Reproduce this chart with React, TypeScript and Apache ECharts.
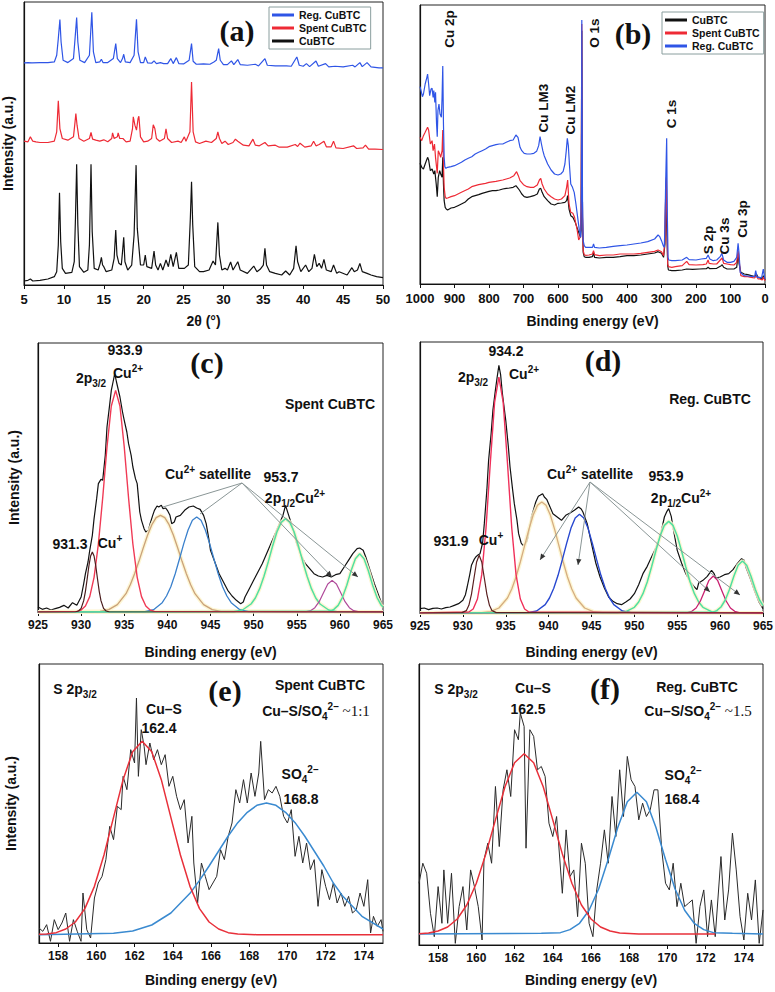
import React, { useEffect, useRef } from 'react';
import * as echarts from 'echarts';

const F = "'Liberation Sans', Arial, Helvetica, sans-serif";
const SERIF = "'Liberation Serif', 'Times New Roman', serif";

// ---------- (a) XRD ----------
const xrdCuBTC: number[][] = [[5.0,12],[5.5,14],[5.8,18],[6.1,12],[7,14],[8,18],[8.8,25],[9.1,40],[9.3,120],[9.45,277],[9.6,130],[9.8,50],[10.2,35],[11.0,38],[11.3,70],[11.45,200],[11.6,363],[11.75,180],[11.95,55],[12.5,38],[13.0,45],[13.2,120],[13.4,363],[13.55,160],[13.8,50],[14.3,45],[14.55,65],[14.7,83],[14.85,60],[15.0,55],[15.3,40],[16.0,45],[16.3,80],[16.5,165],[16.65,90],[16.9,65],[17.2,60],[17.35,100],[17.5,143],[17.65,70],[18.0,45],[18.5,60],[18.8,150],[19.05,360],[19.2,170],[19.4,115],[19.6,60],[20.0,60],[20.2,90],[20.4,55],[21.0,50],[21.3,102],[21.5,60],[21.8,45],[22.1,65],[22.4,45],[22.8,75],[23.1,55],[23.4,92],[23.7,55],[24.1,98],[24.4,50],[25.1,50],[25.6,60],[25.85,200],[26.0,310],[26.15,180],[26.4,55],[27,40],[27.5,40],[28.2,45],[28.7,72],[29.0,60],[29.3,188],[29.5,90],[29.8,45],[30.2,50],[30.5,45],[30.9,69],[31.2,45],[31.8,70],[32.1,45],[33,35],[33.8,57],[34.2,40],[34.6,47],[35.0,60],[35.2,110],[35.4,60],[35.8,40],[36.5,35],[37.3,30],[37.8,42],[38.3,30],[38.8,50],[39.1,118],[39.3,70],[39.7,40],[40.3,60],[40.7,40],[41.1,50],[41.4,92],[41.7,55],[42.0,65],[42.3,50],[42.6,77],[42.9,45],[43.5,40],[43.8,60],[44.2,35],[44.5,40],[45.5,30],[46.1,52],[46.4,40],[46.8,45],[47.1,65],[47.4,40],[48.0,35],[48.5,30],[49.2,25],[50,22]];
const xrdSpent: number[][] = [[5,432],[5.5,430],[5.8,445],[6.1,432],[6.5,430],[7,428],[8,428],[8.8,432],[9.1,460],[9.3,553],[9.5,470],[9.8,440],[10.5,435],[11.2,445],[11.4,490],[11.5,515],[11.65,480],[11.9,440],[12.5,432],[13.2,440],[13.4,458],[13.6,438],[14,435],[14.5,432],[15,436],[15.5,430],[16.0,440],[16.1,457],[16.3,440],[16.7,445],[16.8,457],[17.0,440],[17.4,440],[17.8,430],[18.3,432],[18.6,470],[18.7,505],[18.9,480],[19.1,465],[19.3,500],[19.4,507],[19.6,445],[20,430],[20.5,432],[21.0,440],[21.2,481],[21.4,470],[21.6,440],[22,432],[22.6,440],[22.8,469],[23.0,440],[23.5,428],[24.3,432],[24.7,428],[25.1,445],[25.3,432],[25.8,460],[26.0,610],[26.2,460],[26.5,430],[27,425],[27.8,432],[28.5,428],[29.1,440],[29.3,460],[29.5,440],[29.8,425],[30.2,432],[30.6,422],[31.2,428],[31.5,438],[31.8,432],[32.5,420],[33.2,418],[33.7,438],[34,420],[34.5,418],[35.2,428],[35.6,418],[36.5,420],[37,414],[38,414],[39,422],[39.3,416],[39.6,426],[40.2,414],[41.0,418],[41.3,432],[41.6,418],[42.0,422],[42.6,432],[42.9,415],[43.5,415],[43.8,432],[44.1,412],[45,410],[46.3,418],[46.7,410],[47.5,412],[47.8,420],[48.2,408],[49,408],[50,407]];
const xrdReg: number[][] = [[5,667],[5.5,668],[6,667],[7,668],[8,668],[8.8,670],[9.1,690],[9.3,740],[9.5,797],[9.65,730],[9.9,675],[10.5,668],[11.2,680],[11.4,740],[11.6,803],[11.75,730],[12,675],[12.6,668],[13.2,690],[13.5,819],[13.7,700],[14,668],[14.5,670],[14.7,678],[14.9,668],[15.5,668],[16.2,680],[16.5,725],[16.7,680],[17.1,668],[17.35,680],[17.5,693],[17.7,670],[18.3,668],[18.8,690],[19.1,798],[19.3,700],[19.6,668],[20.0,668],[20.2,685],[20.5,667],[21.0,666],[21.3,673],[21.6,665],[22.1,668],[22.5,665],[23.0,665],[23.4,680],[23.7,665],[24.1,683],[24.4,665],[25.0,664],[25.7,675],[26.0,725],[26.2,672],[26.6,663],[27.5,664],[28.3,663],[28.8,670],[29.1,675],[29.4,710],[29.6,675],[30.0,662],[30.5,662],[31.0,673],[31.3,662],[31.8,677],[32.1,662],[33,660],[34.0,663],[34.4,658],[35.2,680],[35.5,660],[36.5,658],[37.3,658],[37.9,658],[38.5,657],[39.2,685],[39.5,660],[40.0,657],[40.4,665],[40.8,656],[41.6,673],[41.9,657],[42.8,665],[43.2,655],[44.0,657],[45,655],[46.2,660],[46.5,655],[47.1,668],[47.4,656],[48.0,668],[48.5,655],[49.5,652],[50,652]];

// ---------- (b) XPS survey ----------
const surCuBTC: number[][] = [[1000,362],[995,350],[990,345],[985,360],[978,380],[975,372],[970,340],[965,345],[960,330],[957,340],[953,300],[950,262],[947,320],[943,340],[940,330],[936,320],[934,380],[932,300],[930,250],[927,230],[924,225],[920,222],[910,228],[900,230],[890,235],[880,240],[870,245],[860,255],[850,262],[840,265],[830,268],[820,272],[810,275],[800,278],[790,280],[780,280],[770,282],[760,285],[750,287],[740,288],[730,290],[722,295],[718,290],[712,282],[705,270],[698,262],[690,260],[680,262],[670,265],[660,270],[654,285],[650,287],[646,275],[640,262],[630,250],[620,240],[610,237],[600,242],[590,243],[580,245],[575,250],[572,265],[568,225],[563,205],[557,200],[550,185],[545,170],[540,155],[535,140],[533,160],[531,760],[529,200],[527,95],[524,82],[520,80],[510,80],[500,82],[497,95],[494,80],[480,78],[460,80],[440,80],[420,82],[400,85],[380,85],[360,87],[340,90],[320,93],[310,97],[300,92],[294,80],[290,120],[288,260],[286,200],[284,140],[282,55],[280,42],[270,40],[260,40],[240,42],[227,45],[210,44],[190,45],[170,46],[165,50],[160,46],[140,47],[127,55],[124,58],[120,50],[110,45],[100,45],[90,45],[82,50],[78,90],[75,60],[70,35],[60,30],[50,28],[40,25],[30,22],[25,30],[20,20],[15,18],[8,15],[5,25],[0,12]];
const surSpent: number[][] = [[1000,440],[995,430],[990,445],[985,455],[978,470],[975,462],[970,420],[965,430],[962,400],[958,420],[955,380],[950,332],[947,400],[943,390],[940,380],[936,400],[934,462],[932,360],[930,290],[927,262],[924,257],[920,258],[910,262],[900,265],[880,275],[860,285],[850,292],[830,298],[810,302],[800,305],[780,308],[760,312],[740,318],[728,325],[720,337],[715,325],[710,310],[700,298],[690,292],[680,290],[670,290],[660,297],[654,312],[650,317],[646,300],[640,285],[630,270],[620,262],[610,255],[600,252],[590,255],[580,265],[575,290],[572,312],[568,240],[563,215],[557,212],[552,200],[545,165],[540,132],[536,140],[533,220],[531,780],[529,200],[527,100],[524,88],[520,86],[510,87],[500,90],[497,100],[494,88],[480,85],[460,87],[440,87],[420,90],[400,90],[380,90],[360,92],[340,95],[320,98],[310,102],[300,97],[294,85],[290,130],[288,270],[286,320],[284,170],[282,60],[280,52],[270,50],[260,52],[240,55],[227,68],[220,58],[200,57],[180,58],[170,60],[165,72],[162,62],[150,60],[140,60],[127,75],[124,78],[120,62],[110,60],[100,58],[90,57],[82,65],[78,100],[75,70],[70,25],[60,22],[50,22],[40,20],[30,18],[25,25],[20,15],[15,15],[8,12],[5,20],[0,10]];
const surReg: number[][] = [[1000,592],[997,580],[993,562],[990,570],[985,600],[980,620],[978,630],[975,600],[972,565],[968,585],[965,587],[962,560],[960,580],[957,545],[955,575],[952,480],[950,442],[948,520],[945,540],[942,510],[938,500],[936,560],[934,654],[932,480],[930,380],[928,352],[925,347],[920,350],[910,352],[900,355],[890,360],[880,365],[870,372],[860,377],[850,382],[840,390],[830,395],[820,400],[810,405],[800,412],[790,415],[780,418],[770,420],[760,420],[750,425],[740,430],[730,432],[722,447],[716,440],[710,410],[705,400],[698,392],[690,390],[680,390],[670,392],[662,398],[656,415],[652,442],[648,420],[644,400],[640,385],[630,360],[620,342],[610,330],[600,327],[592,330],[585,338],[580,360],[576,400],[573,437],[570,415],[567,360],[563,300],[558,290],[553,275],[548,240],[543,200],[538,160],[534,140],[532,300],[531,792],[529,250],[527,130],[524,115],[520,110],[510,110],[500,110],[497,120],[494,110],[480,108],[460,110],[440,113],[420,115],[400,117],[380,120],[360,123],[340,127],[320,135],[310,147],[305,142],[300,130],[295,115],[292,110],[290,170],[288,300],[285,437],[283,200],[281,80],[279,72],[270,70],[260,70],[240,72],[227,80],[220,73],[200,72],[185,75],[170,77],[165,87],[160,75],[150,70],[140,72],[130,82],[125,92],[120,72],[110,65],[100,65],[90,68],[82,80],[78,122],[75,90],[72,35],[60,25],[50,24],[40,23],[30,22],[27,40],[23,20],[15,20],[10,18],[5,45],[3,30],[0,15]];

// ---------- (c) Cu 2p spent ----------
const cEnvelope: number[][] = [[925,15],[925.5,8],[926,12],[926.5,6],[927,10],[927.5,14],[928,20],[928.5,12],[929,28],[929.5,20],[929.8,35],[930,45],[930.3,85],[930.5,115],[930.8,150],[931,185],[931.3,230],[931.5,280],[931.8,340],[932,385],[932.3,398],[932.5,395],[932.8,470],[933,555],[933.3,620],[933.5,665],[933.7,690],[933.9,715],[934.1,690],[934.5,645],[934.8,600],[935,575],[935.3,540],[935.5,505],[935.8,470],[936,435],[936.3,400],[936.5,385],[936.8,300],[937,275],[937.3,250],[937.5,240],[937.8,245],[938,265],[938.3,290],[938.5,305],[938.8,318],[939,315],[939.3,320],[939.5,310],[939.8,312],[940,305],[940.3,290],[940.5,265],[940.8,270],[941,285],[941.5,290],[942,305],[942.5,315],[943,318],[943.4,312],[943.8,308],[944.2,290],[944.5,265],[944.8,220],[945,185],[945.5,150],[946,115],[946.5,90],[947,65],[947.5,48],[948,35],[948.5,25],[948.8,30],[949,45],[949.5,70],[950,95],[950.5,120],[951,145],[951.5,175],[952,205],[952.5,235],[953,265],[953.4,290],[953.7,320],[954,295],[954.5,255],[955,205],[955.5,170],[956,145],[956.5,130],[957,115],[957.5,108],[958,105],[958.5,110],[959,105],[959.5,112],[960,115],[960.5,135],[961,155],[961.5,175],[962,190],[962.3,192],[962.7,185],[963,165],[963.5,125],[964,85],[964.5,50],[965,15]];
const cCuI: number[][] = [[925,0],[929.3,0],[929.7,3],[930.0,11],[930.3,34],[930.5,62],[930.7,99],[930.9,138],[931.1,168],[931.3,180],[931.5,168],[931.7,138],[931.9,99],[932.1,62],[932.3,34],[932.6,11],[932.9,3],[933.3,0],[965,0]];
const cMain: number[][] = [[925,0],[929.5,2],[930,6],[930.5,18],[931,46],[931.5,104],[932,204],[932.5,342],[933,495],[933.5,618],[934,665],[934.5,618],[935,495],[935.5,342],[936,204],[936.5,104],[937,46],[937.5,18],[938,6],[938.5,2],[965,0]];
const cSat1: number[][] = [[925,0],[932.2,2],[933.2,7],[934.2,22],[935.2,55],[935.7,82],[936.2,115],[936.7,152],[937.2,192],[937.7,230],[938.2,262],[938.7,283],[939.2,290],[939.7,283],[940.2,262],[940.7,230],[941.2,192],[941.7,152],[942.2,115],[942.7,82],[943.2,55],[944.2,22],[945.2,7],[946.2,2],[965,0]];
const cSat2: number[][] = [[925,0],[937.4,1],[938.4,7],[939.4,28],[939.9,48],[940.4,76],[940.9,114],[941.4,159],[941.9,205],[942.4,246],[942.9,275],[943.4,285],[943.9,275],[944.4,246],[944.9,205],[945.4,159],[945.9,114],[946.4,76],[946.9,48],[947.4,28],[948.4,7],[949.4,1],[965,0]];
const cHalf: number[][] = [[925,0],[947.7,1],[948.7,6],[949.7,24],[950.2,42],[950.7,70],[951.2,107],[951.7,151],[952.2,198],[952.7,240],[953.2,269],[953.7,280],[954.2,269],[954.7,240],[955.2,198],[955.7,151],[956.2,107],[956.7,70],[957.2,42],[957.7,24],[958.7,6],[959.7,1],[965,0]];
const cSat3: number[][] = [[925,0],[956.1,1],[956.6,4],[957.1,13],[957.6,31],[958.1,58],[958.6,84],[959.1,95],[959.6,84],[960.1,58],[960.6,31],[961.1,13],[961.6,4],[962.1,1],[965,0]];
const cSat4: number[][] = [[925,0],[958.8,2],[959.3,8],[959.8,20],[960.3,44],[960.8,80],[961.3,124],[961.8,160],[962.3,175],[962.8,160],[963.3,124],[963.8,80],[964.3,44],[964.8,20],[965,15]];

// ---------- (d) Cu 2p regenerated ----------
const dEnvelope: number[][] = [[925,13],[925.5,15],[926,10],[926.5,14],[927,15],[927.5,12],[928,16],[928.5,18],[929,23],[929.5,28],[930,38],[930.3,55],[930.5,78],[930.8,115],[931,143],[931.3,160],[931.5,168],[931.8,175],[932,178],[932.3,210],[932.5,268],[932.8,370],[933,458],[933.3,540],[933.5,608],[933.8,670],[934,708],[934.2,743],[934.4,715],[934.6,660],[935,578],[935.3,500],[935.5,438],[935.8,370],[936,328],[936.3,280],[936.5,238],[936.8,210],[937,203],[937.3,208],[937.5,218],[937.8,260],[938,288],[938.3,315],[938.5,333],[938.8,350],[939,353],[939.3,358],[939.5,348],[939.8,340],[940,328],[940.3,310],[940.5,298],[941,288],[941.5,278],[942,293],[942.5,300],[943,308],[943.5,318],[943.8,312],[944,303],[944.5,268],[945,208],[945.5,150],[946,108],[946.5,75],[947,48],[947.5,35],[948,28],[948.5,25],[949,33],[949.5,42],[950,58],[950.5,85],[951,118],[951.5,140],[952,168],[952.5,195],[953,228],[953.5,288],[953.8,305],[954,313],[954.3,290],[954.5,258],[955,188],[955.5,150],[956,118],[956.5,95],[957,78],[957.3,70],[957.5,90],[958,98],[958.5,110],[959,128],[959.3,118],[959.5,105],[960,108],[960.5,115],[961,118],[961.5,130],[962,148],[962.5,163],[962.8,158],[963,138],[963.5,105],[964,68],[964.5,35],[965,13]];
const dCuI: number[][] = [[925,0],[929.9,1],[930.4,7],[930.7,23],[931.0,56],[931.3,105],[931.6,153],[931.9,173],[932.2,153],[932.5,105],[932.8,56],[933.1,23],[933.4,7],[933.9,1],[965,0]];
const dMain: number[][] = [[925,0],[930.7,3],[931.2,12],[931.7,42],[932.2,115],[932.7,255],[933.2,450],[933.7,632],[934.2,708],[934.7,632],[935.2,450],[935.7,255],[936.2,115],[936.7,42],[937.2,12],[937.7,3],[965,0]];
const dSat1: number[][] = [[925,0],[932.2,1],[933.2,4],[934.2,15],[935.2,45],[935.7,72],[936.2,108],[936.7,153],[937.2,202],[937.7,251],[938.2,294],[938.7,323],[939.2,333],[939.7,323],[940.2,294],[940.7,251],[941.2,202],[941.7,153],[942.2,108],[942.7,72],[943.2,45],[944.2,15],[945.2,4],[946.2,1],[965,0]];
const dSat2: number[][] = [[925,0],[937.6,1],[938.6,6],[939.6,25],[940.1,45],[940.6,74],[941.1,113],[941.6,160],[942.1,209],[942.6,254],[943.1,285],[943.6,296],[944.1,285],[944.6,254],[945.1,209],[945.6,160],[946.1,113],[946.6,74],[947.1,45],[947.6,25],[948.6,6],[949.6,1],[965,0]];
const dHalf: number[][] = [[925,0],[948.0,1],[949.0,4],[950.0,17],[950.5,33],[951.0,58],[951.5,93],[952.0,138],[952.5,186],[953.0,231],[953.5,263],[954.0,275],[954.5,263],[955.0,231],[955.5,186],[956.0,138],[956.5,93],[957.0,58],[957.5,33],[958.0,17],[959.0,4],[960.0,1],[965,0]];
const dSat3: number[][] = [[925,0],[956.2,1],[956.7,5],[957.2,15],[957.7,36],[958.2,67],[958.7,98],[959.2,111],[959.7,98],[960.2,67],[960.7,36],[961.2,15],[961.7,5],[962.2,1],[965,0]];
const dSat4: number[][] = [[925,0],[959.1,2],[959.6,7],[960.1,18],[960.6,39],[961.1,71],[961.6,110],[962.1,143],[962.6,156],[963.1,143],[963.6,110],[964.1,71],[964.6,39],[965,22]];

// ---------- (e) S 2p spent ----------
const eRaw: number[][] = [[157.0,45],[157.2,35],[157.4,55],[157.6,5],[157.8,70],[158.0,40],[158.2,60],[158.4,90],[158.6,5],[158.8,70],[159.0,35],[159.2,5],[159.3,150],[159.5,40],[159.7,15],[159.9,135],[160.1,180],[160.3,200],[160.5,250],[160.7,350],[160.9,310],[161.1,410],[161.3,400],[161.4,500],[161.6,460],[161.8,580],[162.0,540],[162.1,735],[162.2,500],[162.35,640],[162.5,590],[162.6,535],[162.8,600],[163.0,550],[163.2,580],[163.4,535],[163.6,565],[163.8,470],[164.0,500],[164.2,440],[164.4,400],[164.6,430],[164.8,300],[165.0,380],[165.1,240],[165.3,120],[165.5,240],[165.7,200],[165.9,160],[166.1,180],[166.3,200],[166.5,280],[166.7,250],[166.9,320],[167.1,360],[167.3,460],[167.5,420],[167.7,490],[167.9,420],[168.1,510],[168.3,440],[168.5,510],[168.6,605],[168.8,430],[169.0,460],[169.2,450],[169.4,470],[169.6,440],[169.8,380],[170.0,360],[170.2,400],[170.4,260],[170.6,320],[170.8,240],[171.0,300],[171.2,220],[171.4,250],[171.6,110],[171.8,220],[172.0,170],[172.2,130],[172.4,180],[172.6,120],[172.8,150],[173.0,110],[173.2,140],[173.4,90],[173.6,100],[173.8,150],[174.0,110],[174.2,190],[174.35,30],[174.5,80],[174.7,50],[174.9,70],[175.0,35]];
const eCuS: number[][] = [[157,26],[157.4,27],[157.9,31],[158.4,42],[158.9,63],[159.4,103],[159.9,170],[160.4,264],[160.9,377],[161.4,490],[161.9,574],[162.4,605],[162.9,574],[163.4,490],[163.9,377],[164.4,264],[164.9,170],[165.4,103],[165.9,63],[166.4,42],[166.9,31],[167.4,27],[168.4,25],[175,25]];
const eSO4: number[][] = [[157,25],[160.9,29],[161.9,36],[162.9,54],[163.9,90],[164.9,149],[165.4,188],[165.9,231],[166.4,276],[166.9,321],[167.4,361],[167.9,392],[168.4,413],[168.9,420],[169.4,413],[169.9,392],[170.4,361],[170.9,321],[171.4,276],[171.9,231],[172.4,180],[172.9,140],[173.9,80],[175,42]];

// ---------- (f) S 2p regenerated ----------
const fRaw: number[][] = [[157.0,185],[157.2,245],[157.4,215],[157.6,95],[157.8,25],[158.0,175],[158.2,65],[158.3,225],[158.5,65],[158.7,215],[158.9,5],[159.1,115],[159.3,175],[159.5,45],[159.7,225],[159.9,175],[160.1,115],[160.3,15],[160.4,255],[160.6,305],[160.8,245],[161.0,475],[161.2,295],[161.4,465],[161.6,525],[161.8,445],[162.0,645],[162.2,615],[162.3,695],[162.5,655],[162.6,290],[162.8,645],[163.0,625],[163.2,525],[163.4,535],[163.6,505],[163.8,365],[164.0,325],[164.2,385],[164.5,155],[164.7,345],[164.9,205],[165.1,225],[165.3,85],[165.5,305],[165.7,245],[165.9,65],[166.1,25],[166.3,165],[166.5,245],[166.7,345],[166.9,245],[167.1,445],[167.3,325],[167.5,525],[167.7,385],[167.9,565],[168.1,495],[168.3,475],[168.5,375],[168.7,425],[168.9,385],[169.1,405],[169.3,465],[169.5,465],[169.7,285],[169.9,185],[170.1,165],[170.3,245],[170.5,115],[170.7,185],[170.9,115],[171.1,125],[171.3,135],[171.5,5],[171.7,115],[171.9,165],[172.1,25],[172.3,135],[172.5,25],[172.8,265],[173.0,75],[173.2,165],[173.4,335],[173.6,225],[173.8,85],[174.0,15],[174.2,155],[174.4,75],[174.6,195],[174.8,5],[175.0,105]];
const fCuS: number[][] = [[157,34],[157.5,36],[158,42],[158.5,54],[159,78],[159.5,120],[160,185],[160.5,273],[161,375],[161.5,474],[162,546],[162.5,573],[163,546],[163.5,474],[164,375],[164.5,273],[165,185],[165.5,120],[166,78],[166.5,54],[167,42],[167.5,36],[168.5,33],[172.5,33]];
const fSO4: number[][] = [[157,33],[163.4,35],[164.4,37],[164.9,46],[165.4,65],[165.9,104],[166.4,168],[166.9,256],[167.4,352],[167.9,429],[168.4,458],[168.9,429],[169.4,352],[169.9,256],[170.4,168],[170.9,104],[171.4,65],[171.9,46],[172.4,37],[173.4,35],[175,33]];

const sTicks = [158, 160, 162, 164, 166, 168, 170, 172, 174];

const RICH: any = {
  sub: { fontSize: 10, fontWeight: 'bold', fontFamily: F, fill: '#111', color: '#111', verticalAlign: 'bottom', lineHeight: 10 },
  sup: { fontSize: 10, fontWeight: 'bold', fontFamily: F, fill: '#111', color: '#111', verticalAlign: 'top', lineHeight: 10 },
  serif: { fontSize: 15, fontWeight: 'normal', fontFamily: SERIF, fill: '#111', color: '#111', lineHeight: 20 },
};

function txt(x: number, y: number, text: string, size = 14, extra: any = {}) {
  return {
    type: 'text', x, y, z: 100, silent: true,
    style: { text, fontSize: size, fontWeight: 'bold', fontFamily: F, fill: '#111', align: 'center', verticalAlign: 'middle', textAlign: 'center', textVerticalAlign: 'middle', lineHeight: 20, rich: RICH },
    ...extra,
  };
}
function letter(x: number, y: number, text: string) {
  return {
    type: 'text', x, y, z: 100, silent: true,
    style: { text, fontSize: 30, fontWeight: 'bold', fontFamily: SERIF, fill: '#111', align: 'center', verticalAlign: 'middle', textAlign: 'center', textVerticalAlign: 'middle' },
  };
}
function arrow(x1: number, y1: number, x2: number, y2: number, head: boolean) {
  const els: any[] = [{ type: 'line', z: 90, silent: true, shape: { x1, y1, x2, y2 }, style: { stroke: '#8a9696', lineWidth: 1 } }];
  if (head) {
    const a = Math.atan2(y2 - y1, x2 - x1);
    const s = 6, w = 2.6;
    const bx = x2 - s * Math.cos(a), by = y2 - s * Math.sin(a);
    els.push({ type: 'polygon', z: 91, silent: true, shape: { points: [[x2, y2], [bx + w * Math.sin(a), by - w * Math.cos(a)], [bx - w * Math.sin(a), by + w * Math.cos(a)]] }, style: { fill: '#333' } });
  }
  return els;
}

function S(g: number, data: number[][], color: string, width = 1.2, name?: string, z = 2) {
  return {
    type: 'line', name, xAxisIndex: g, yAxisIndex: g, data, symbol: 'none', showSymbol: false,
    lineStyle: { color, width }, itemStyle: { color }, z, silent: true, emphasis: { disabled: true },
  };
}

const grids = [
  { left: 24, top: 2, width: 359, height: 283 },
  { left: 420, top: 5, width: 345, height: 279 },
  { left: 38, top: 343, width: 345, height: 269 },
  { left: 420, top: 342, width: 343, height: 271 },
  { left: 39, top: 664, width: 344, height: 279 },
  { left: 419, top: 664, width: 344, height: 281 },
];
const yMax = [850, 837, 807, 813, 837, 842];

function xAx(g: number, o: any, labelSize: number, margin: number, gap: number, name: string) {
  return {
    type: 'value', gridIndex: g, name, nameLocation: 'middle', nameGap: gap,
    nameTextStyle: { fontSize: 14, fontWeight: 'bold', fontFamily: F, color: '#111' },
    axisLine: { show: true, onZero: false, lineStyle: { color: '#111', width: 1.2 } },
    axisTick: { show: true, inside: false, length: 4, lineStyle: { color: '#111', width: 1 }, ...(o.ticks ? { customValues: o.ticks } : {}) },
    axisLabel: { fontSize: labelSize, fontWeight: 'bold', fontFamily: F, color: '#111', margin, formatter: (v: number) => String(v), ...(o.ticks ? { customValues: o.ticks } : {}) },
    splitLine: { show: false },
    min: o.min, max: o.max, ...(o.interval ? { interval: o.interval } : {}), inverse: !!o.inverse,
  };
}
function yAx(g: number, name: string, gap: number) {
  return {
    type: 'value', gridIndex: g, min: 0, max: yMax[g], name, nameLocation: 'middle', nameGap: gap, nameRotate: 90,
    nameTextStyle: { fontSize: 14, fontWeight: 'bold', fontFamily: F, color: '#111' },
    axisLine: { show: true, onZero: false, lineStyle: { color: '#111', width: 1.2 } },
    axisTick: { show: false }, axisLabel: { show: false }, splitLine: { show: false },
  };
}

const legendBase = {
  orient: 'vertical', icon: 'rect', itemWidth: 22, itemHeight: 3, itemGap: 1, padding: [2, 4, 2, 3],
  borderColor: '#8a9e9e', borderWidth: 1, backgroundColor: '#fff', selectedMode: false,
  textStyle: { fontSize: 10.5, fontWeight: 'bold', fontFamily: F, color: '#111', lineHeight: 12 },
};

const BLUE = '#2f55e6', RED = '#ee2a35', BLACK = '#111';
const GLOW = 'rgba(253,244,205,0.85)';

export default function App() {
  const ref = useRef<HTMLDivElement>(null);
  useEffect(() => {
    document.body.style.margin = '0';
    const chart = echarts.init(ref.current!, undefined, { renderer: 'svg', width: 775, height: 992 });
    const graphic: any[] = [
      letter(237, 30, '(a)'), letter(633, 33, '(b)'), letter(207, 362, '(c)'),
      letter(603, 360, '(d)'), letter(225, 690, '(e)'), letter(605, 688, '(f)'),
      // (b)
      txt(449, 29, 'Cu 2p', 13.5, { rotation: Math.PI / 2 }),
      txt(594, 33, 'O 1s', 13.5, { rotation: Math.PI / 2 }),
      txt(543, 108, 'Cu LM3', 13.5, { rotation: Math.PI / 2 }),
      txt(570, 110, 'Cu LM2', 13.5, { rotation: Math.PI / 2 }),
      txt(671, 114, 'C 1s', 13.5, { rotation: Math.PI / 2 }),
      txt(708, 240, 'S 2p', 13.5, { rotation: Math.PI / 2 }),
      txt(724, 236, 'Cu 3s', 13.5, { rotation: Math.PI / 2 }),
      txt(742, 219, 'Cu 3p', 13.5, { rotation: Math.PI / 2 }),
      // (c)
      txt(125, 350, '933.9'), txt(91, 378, '2p{sub|3/2}'), txt(128, 373, 'Cu{sup|2+}'),
      txt(330, 404, 'Spent CuBTC'), txt(70, 544, '931.3'), txt(110, 543, 'Cu{sup|+}'),
      txt(208, 474, 'Cu{sup|2+} satellite'), txt(281, 477, '953.7'), txt(295, 498, '2p{sub|1/2}Cu{sup|2+}'),
      ...arrow(242, 483, 163, 507, false), ...arrow(242, 483, 200, 514, false),
      ...arrow(242, 483, 332, 577, true), ...arrow(242, 483, 358, 577, true),
      // (d)
      txt(506, 351, '934.2'), txt(473, 377, '2p{sub|3/2}'), txt(524, 374, 'Cu{sup|2+}'),
      txt(710, 399, 'Reg. CuBTC'), txt(451, 541, '931.9'), txt(491, 540, 'Cu{sup|+}'),
      txt(590, 474, 'Cu{sup|2+} satellite'), txt(666, 476, '953.9'), txt(681, 498, '2p{sub|1/2}Cu{sup|2+}'),
      ...arrow(590, 482, 540, 560, true), ...arrow(590, 482, 578, 565, true),
      ...arrow(590, 482, 710, 592, true), ...arrow(590, 482, 740, 595, true),
      // (e)
      txt(75, 689, 'S 2p{sub|3/2}'), txt(320, 685, 'Spent CuBTC'),
      txt(316, 711, 'Cu–S/SO{sub|4}{sup|2–} {serif|~1:1}'), txt(164, 709, 'Cu–S'), txt(159, 728, '162.4'),
      txt(300, 774, 'SO{sub|4}{sup|2–}'), txt(301, 799, '168.8'),
      // (f)
      txt(456, 689, 'S 2p{sub|3/2}'), txt(533, 688, 'Cu–S'), txt(528, 709, '162.5'),
      txt(697, 687, 'Reg. CuBTC'), txt(698, 711, 'Cu–S/SO{sub|4}{sup|2–} {serif|~1.5}'),
      txt(683, 775, 'SO{sub|4}{sup|2–}'), txt(682, 799, '168.4'),
    ];

    const option: any = {
      animation: false,
      backgroundColor: '#fff',
      grid: grids.map((g) => ({ ...g, show: true, borderColor: '#222', borderWidth: 1, backgroundColor: 'transparent', containLabel: false, outerBoundsMode: 'none' })),
      xAxis: [
        xAx(0, { min: 5, max: 50, interval: 5 }, 13, 8, 29, '2θ (°)'),
        xAx(1, { min: 0, max: 1000, interval: 100, inverse: true }, 13, 8, 30, 'Binding energy (eV)'),
        xAx(2, { min: 925, max: 965, interval: 5 }, 12, 7, 33, 'Binding energy (eV)'),
        xAx(3, { min: 925, max: 965, interval: 5 }, 12, 7, 32, 'Binding energy (eV)'),
        xAx(4, { min: 157, max: 175, ticks: sTicks }, 12, 7, 30, 'Binding energy (eV)'),
        xAx(5, { min: 157, max: 175, ticks: sTicks }, 12, 7, 28, 'Binding energy (eV)'),
      ],
      yAxis: [
        yAx(0, 'Intensity (a.u.)', 9), yAx(1, '', 10), yAx(2, 'Intensity (a.u.)', 17),
        yAx(3, '', 10), yAx(4, 'Intensity (a.u.)', 21), yAx(5, '', 10),
      ],
      legend: [
        { ...legendBase, left: 269, top: 7, data: ['Reg. CuBTC', 'Spent CuBTC', 'CuBTC'] },
        { ...legendBase, left: 662, top: 12, data: ['CuBTC', 'Spent CuBTC', 'Reg. CuBTC'] },
      ],
      series: [
        S(0, xrdCuBTC, BLACK, 1.2, 'CuBTC'), S(0, xrdSpent, RED, 1.2, 'Spent CuBTC'), S(0, xrdReg, BLUE, 1.2, 'Reg. CuBTC'),
        S(1, surCuBTC, BLACK, 1.2, 'CuBTC'), S(1, surSpent, RED, 1.2, 'Spent CuBTC'), S(1, surReg, BLUE, 1.2, 'Reg. CuBTC'),
        // (c)
        S(2, cEnvelope, BLACK, 1.2, undefined, 2),
        S(2, cSat1, GLOW, 4, undefined, 3), S(2, cHalf, GLOW, 4, undefined, 3), S(2, cSat4, GLOW, 4, undefined, 3),
        S(2, cSat1, '#cba27a', 1.3, undefined, 4), S(2, cSat2, '#3a80cc', 1.3, undefined, 4),
        S(2, cHalf, '#52e0a0', 1.5, undefined, 4), S(2, cSat3, '#b04a9a', 1.2, undefined, 4),
        S(2, cSat4, '#52e0a0', 1.5, undefined, 4), S(2, cMain, '#f03a55', 1.4, undefined, 5),
        S(2, cCuI, '#4a1d1d', 1.2, undefined, 5),
        // (d)
        S(3, dEnvelope, BLACK, 1.2, undefined, 2),
        S(3, dSat1, GLOW, 4, undefined, 3), S(3, dHalf, GLOW, 4, undefined, 3), S(3, dSat4, GLOW, 4, undefined, 3),
        S(3, dSat1, '#d6ad80', 1.3, undefined, 4), S(3, dSat2, '#2848d0', 1.4, undefined, 4),
        S(3, dHalf, '#50e0a0', 1.5, undefined, 4), S(3, dSat3, '#c82070', 1.3, undefined, 4),
        S(3, dSat4, '#50e0a0', 1.5, undefined, 4), S(3, dMain, '#f0305a', 1.4, undefined, 5),
        S(3, dCuI, '#5a2020', 1.2, undefined, 5),
        // (e)
        S(4, eRaw, '#2a2a2a', 1.0, undefined, 2), S(4, eSO4, '#3a8ad0', 1.5, undefined, 3), S(4, eCuS, '#e8303a', 1.5, undefined, 4),
        // (f)
        S(5, fRaw, '#2a2a2a', 1.0, undefined, 2), S(5, fSO4, '#3a8ad0', 1.5, undefined, 3), S(5, fCuS, '#e8303a', 1.5, undefined, 4),
      ],
      graphic,
    };
    chart.setOption(option);
    return () => chart.dispose();
  }, []);
  return <div ref={ref} style={{ width: 775, height: 992, position: 'absolute', left: 0, top: 0, background: '#fff' }} />;
}
